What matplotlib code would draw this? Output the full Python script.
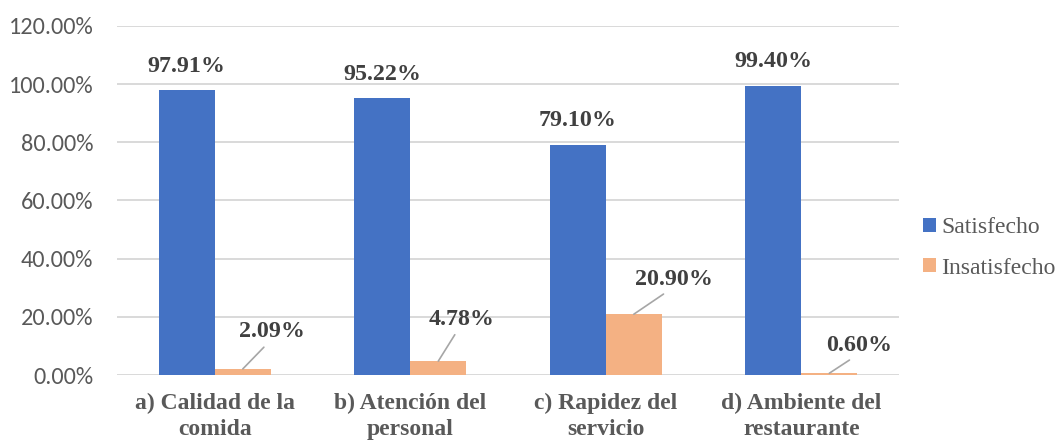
import matplotlib
matplotlib.use("Agg")
import matplotlib.pyplot as plt
import numpy as np
from matplotlib.ticker import FuncFormatter, MultipleLocator

categories = ["a) Calidad de la\ncomida", "b) Atención del\npersonal",
              "c) Rapidez del\nservicio", "d) Ambiente del\nrestaurante"]
satisfecho = [97.91, 95.22, 79.10, 99.40]
insatisfecho = [2.09, 4.78, 20.90, 0.60]
series_names = ["Satisfecho", "Insatisfecho"]

BLUE = "#4472C4"
ORANGE = "#F4B183"
GRAY_TXT = "#595959"
LABEL_TXT = "#404040"
GRID = "#D9D9D9"
SERIF = ["Liberation Serif", "DejaVu Serif"]
SANS = ["Carlito", "DejaVu Sans"]

fig = plt.figure(figsize=(10.57, 4.40), dpi=100)
ax = fig.add_axes([117 / 1057, 1 - 375 / 440, (899 - 117) / 1057, (375 - 26) / 440])

x = np.arange(len(categories))
w = 0.287
ax.bar(x - w / 2, satisfecho, width=w, color=BLUE, label=series_names[0], zorder=3)
ax.bar(x + w / 2, insatisfecho, width=w, color=ORANGE, label=series_names[1], zorder=3)

ax.set_xlim(-0.5, len(categories) - 0.5)
ax.set_ylim(0, 120)
ax.yaxis.set_major_locator(MultipleLocator(20))
ax.yaxis.set_major_formatter(FuncFormatter(lambda v, p: f"{v:.2f}%"))
ax.grid(axis="y", color=GRID, linewidth=1.4, zorder=0)
for s in ax.spines.values():
    s.set_visible(False)
ax.tick_params(axis="both", length=0)
ax.tick_params(axis="y", pad=17, labelcolor=GRAY_TXT, labelsize=17.5)
for t in ax.get_yticklabels():
    t.set_fontfamily(SANS)
ax.set_xticks(x)
ax.set_xticklabels(categories, fontfamily=SERIF, fontweight="bold",
                   fontsize=17, color=GRAY_TXT, linespacing=1.3)
ax.tick_params(axis="x", pad=13)

# Value labels above the blue bars
for xi, v in zip(x, satisfecho):
    ax.annotate(f"{v:.2f}%", (xi - w / 2, v), xytext=(0, 24), textcoords="offset pixels",
                ha="center", va="center", fontfamily=SERIF, fontweight="bold",
                fontsize=17.3, color=LABEL_TXT, zorder=5)

# Value labels for the orange bars with leader lines
offsets = [(29, 37), (23, 42), (40, 35), (30, 28)]
for xi, v, (dx, dy) in zip(x, insatisfecho, offsets):
    ax.annotate(f"{v:.2f}%", (xi + w / 2, v), xytext=(dx, dy), textcoords="offset pixels",
                ha="center", va="center", fontfamily=SERIF, fontweight="bold",
                fontsize=17.3, color=LABEL_TXT, zorder=5,
                arrowprops=dict(arrowstyle="-", color="#A6A6A6", lw=1.2,
                                shrinkA=2, shrinkB=0, relpos=(0.45, 0.0)))

leg = ax.legend(loc="center left", bbox_to_anchor=(914 / 1057, 1 - 248 / 440),
                bbox_transform=fig.transFigure, frameon=False,
                prop={"family": SERIF, "size": 17}, labelcolor=GRAY_TXT,
                handlelength=0.55, handleheight=0.55, handletextpad=0.2,
                labelspacing=0.82, borderaxespad=0)
for t in leg.get_texts():
    t.set_fontfamily(SERIF)

fig.savefig("out.png", dpi=100)
